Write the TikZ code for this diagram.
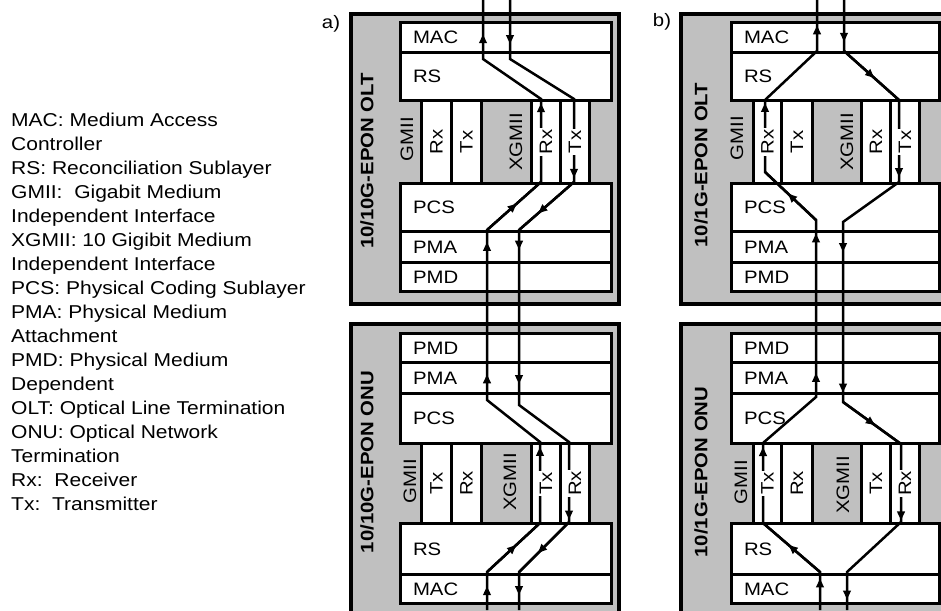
\documentclass[tikz,border=0pt]{standalone}
\usepackage{fontspec}
\setmainfont{Liberation Sans}[FakeStretch=1.13]
\usetikzlibrary{arrows.meta,decorations.markings}
\definecolor{unitgray}{HTML}{C0C0C0}
\newcommand{\layerfont}{\fontsize{18}{24}\selectfont}

\begin{document}
\begin{tikzpicture}[x=1pt,y=-1pt,
  every node/.style={font=\layerfont},
  unitbox/.style={draw, fill=unitgray, line width=4pt, anchor=north west, inner sep=0pt},
  layerbox/.style={draw, fill=white, line width=3pt, anchor=north west, inner xsep=12.5pt, inner ysep=0pt, align=left},
  alayer/.style={layerbox, minimum width=211pt, text width=186pt},
  blayer/.style={layerbox, minimum width=208pt, text width=183pt},
  col/.style={draw, fill=white, line width=3pt, anchor=north west, inner sep=0pt},
  collabel/.style={rotate=90, fill=white, inner sep=1.5pt},
  bandlabel/.style={rotate=90, inner sep=0pt},
  unittitle/.style={rotate=90, inner sep=0pt, font=\layerfont\bfseries},
  legend/.style={anchor=west, align=left, inner sep=0pt, font=\fontsize{18.6}{24}\selectfont},
  conn/.style={line width=2.5pt},
  arr/.style={postaction={decorate, decoration={markings, mark=at position #1 with {\arrow{Triangle[length=9pt,width=7.5pt]}}}}}]
\useasboundingbox (0,0) rectangle (941,610);
\clip (0,0) rectangle (941,610);

% legend
\node[legend] (legend) at (11,312) {MAC: Medium Access\\Controller\\RS: Reconciliation Sublayer\\GMII:\ \ Gigabit Medium\\Independent Interface\\XGMII: 10 Gigibit Medium\\Independent Interface\\PCS: Physical Coding Sublayer\\PMA: Physical Medium\\Attachment\\PMD: Physical Medium\\Dependent\\OLT: Optical Line Termination\\ONU: Optical Network\\Termination\\Rx:\ \ Receiver\\Tx:\ \ Transmitter};
\node[inner sep=0pt] (panelA) at (331,24) {a)};
\node[inner sep=0pt] (panelB) at (662,22) {b)};

% units
\node[unitbox, minimum width=268pt, minimum height=290pt] (oltA) at (349,12) {};
\node[unitbox, minimum width=268pt, minimum height=293pt] (onuA) at (349,322) {};
\node[unitbox, minimum width=269pt, minimum height=290pt] (oltB) at (679,12) {};
\node[unitbox, minimum width=269pt, minimum height=293pt] (onuB) at (679,322) {};

% a) OLT layers
\node[alayer, minimum height=30pt] (oltA-mac) at (399,21) {MAC};
\node[alayer, minimum height=48pt] (oltA-rs) at (399,51) {RS};
\node[alayer, minimum height=48pt] (oltA-pcs) at (399,182) {PCS};
\node[alayer, minimum height=31pt] (oltA-pma) at (399,230) {PMA};
\node[alayer, minimum height=29pt] (oltA-pmd) at (399,261) {PMD};
\node[col, minimum width=30pt, minimum height=83pt] (oltA-rx1) at (420,99) {};
\node[col, minimum width=30pt, minimum height=83pt] (oltA-tx1) at (450,99) {};
\node[col, minimum width=29pt, minimum height=83pt] (oltA-rx2) at (530,99) {};
\node[col, minimum width=29pt, minimum height=83pt] (oltA-tx2) at (559,99) {};

% a) ONU layers
\node[alayer, minimum height=29pt] (onuA-pmd) at (399,332) {PMD};
\node[alayer, minimum height=31pt] (onuA-pma) at (399,361) {PMA};
\node[alayer, minimum height=50pt] (onuA-pcs) at (399,392) {PCS};
\node[alayer, minimum height=51pt] (onuA-rs) at (399,522) {RS};
\node[alayer, minimum height=29pt] (onuA-mac) at (399,573) {MAC};
\node[col, minimum width=30pt, minimum height=80pt] (onuA-tx1) at (420,442) {};
\node[col, minimum width=30pt, minimum height=80pt] (onuA-rx1) at (450,442) {};
\node[col, minimum width=29pt, minimum height=80pt] (onuA-tx2) at (530,442) {};
\node[col, minimum width=29pt, minimum height=80pt] (onuA-rx2) at (559,442) {};

% b) OLT layers
\node[blayer, minimum height=30pt] (oltB-mac) at (730,21) {MAC};
\node[blayer, minimum height=48pt] (oltB-rs) at (730,51) {RS};
\node[blayer, minimum height=48pt] (oltB-pcs) at (730,182) {PCS};
\node[blayer, minimum height=31pt] (oltB-pma) at (730,230) {PMA};
\node[blayer, minimum height=29pt] (oltB-pmd) at (730,261) {PMD};
\node[col, minimum width=28pt, minimum height=83pt] (oltB-rx1) at (752,99) {};
\node[col, minimum width=31pt, minimum height=83pt] (oltB-tx1) at (780,99) {};
\node[col, minimum width=29pt, minimum height=83pt] (oltB-rx2) at (860,99) {};
\node[col, minimum width=29pt, minimum height=83pt] (oltB-tx2) at (889,99) {};

% b) ONU layers
\node[blayer, minimum height=29pt] (onuB-pmd) at (730,332) {PMD};
\node[blayer, minimum height=31pt] (onuB-pma) at (730,361) {PMA};
\node[blayer, minimum height=50pt] (onuB-pcs) at (730,392) {PCS};
\node[blayer, minimum height=51pt] (onuB-rs) at (730,522) {RS};
\node[blayer, minimum height=29pt] (onuB-mac) at (730,573) {MAC};
\node[col, minimum width=28pt, minimum height=80pt] (onuB-tx1) at (752,442) {};
\node[col, minimum width=31pt, minimum height=80pt] (onuB-rx1) at (780,442) {};
\node[col, minimum width=29pt, minimum height=80pt] (onuB-tx2) at (860,442) {};
\node[col, minimum width=29pt, minimum height=80pt] (onuB-rx2) at (889,442) {};

% a) upstream and downstream paths
\coordinate (aU1) at (487,610);
\coordinate (aU2) at (487,572);
\coordinate (aU3) at (540,523);
\coordinate (aU4) at (540,442);
\coordinate (aU5) at (487,400);
\coordinate (aU6) at (487,230);
\coordinate (aU7) at (541,182);
\coordinate (aU8) at (541,99);
\coordinate (aU9) at (483,59);
\coordinate (aU10) at (483,0);
\coordinate (aD1) at (510,0);
\coordinate (aD2) at (510,59);
\coordinate (aD3) at (574,99);
\coordinate (aD4) at (574,182);
\coordinate (aD5) at (519,230);
\coordinate (aD6) at (519,405);
\coordinate (aD7) at (569,442);
\coordinate (aD8) at (569,522);
\coordinate (aD9) at (519,572);
\coordinate (aD10) at (519,610);
\draw[conn] (aU1) -- (aU2) -- (aU3) -- (aU4) -- (aU5) -- (aU6) -- (aU7) -- (aU8) -- (aU9) -- (aU10);
\draw[conn] (aD1) -- (aD2) -- (aD3) -- (aD4) -- (aD5) -- (aD6) -- (aD7) -- (aD8) -- (aD9) -- (aD10);
\draw[conn, arr=0.59] (aU1 |- onuA-mac.south) -- (aU1 |- onuA-mac.north);
\draw[conn, arr=0.55] (aU2) -- (aU3);
\draw[conn, arr=0.94] (aU3) -- (aU4);
\draw[conn, arr=0.61] (aU5 |- onuA-pma.south) -- (aU5 |- onuA-pma.north);
\draw[conn, arr=0.65] (aU6 |- oltA-pma.south) -- (aU6 |- oltA-pma.north);
\draw[conn, arr=0.55] (aU6) -- (aU7);
\draw[conn, arr=0.95] (aU7) -- (aU8);
\draw[conn, arr=0.6] (aU10 |- oltA-mac.south) -- (aU10 |- oltA-mac.north);
\draw[conn, arr=0.7] (aD1 |- oltA-mac.north) -- (aD1 |- oltA-mac.south);
\draw[conn, arr=0.95] (aD3) -- (aD4);
\draw[conn, arr=0.65] (aD4) -- (aD5);
\draw[conn, arr=0.58] (aD5 |- oltA-pma.north) -- (aD5 |- oltA-pma.south);
\draw[conn, arr=0.68] (aD6 |- onuA-pma.north) -- (aD6 |- onuA-pma.south);
\draw[conn, arr=0.97] (aD7) -- (aD8);
\draw[conn, arr=0.62] (aD8) -- (aD9);
\draw[conn, arr=0.69] (aD10 |- onuA-mac.north) -- (aD10 |- onuA-mac.south);

% b) upstream and downstream paths
\coordinate (bU1) at (820,610);
\coordinate (bU2) at (820,572);
\coordinate (bU3) at (763,523);
\coordinate (bU4) at (763,443);
\coordinate (bU5) at (816,397);
\coordinate (bU6) at (816,220);
\coordinate (bU7) at (765,172);
\coordinate (bU8) at (765,100);
\coordinate (bU9) at (817,51);
\coordinate (bU10) at (817,0);
\coordinate (bD1) at (844,0);
\coordinate (bD2) at (844,51);
\coordinate (bD3) at (899,100);
\coordinate (bD4) at (899,182);
\coordinate (bD5) at (843,222);
\coordinate (bD6) at (843,402);
\coordinate (bD7) at (901,444);
\coordinate (bD8) at (901,522);
\coordinate (bD9) at (847,572);
\coordinate (bD10) at (847,610);
\draw[conn] (bU1) -- (bU2) -- (bU3) -- (bU4) -- (bU5) -- (bU6) -- (bU7) -- (bU8) -- (bU9) -- (bU10);
\draw[conn] (bD1) -- (bD2) -- (bD3) -- (bD4) -- (bD5) -- (bD6) -- (bD7) -- (bD8) -- (bD9) -- (bD10);
\draw[conn, arr=0.83] (bU1 |- onuB-mac.south) -- (bU1 |- onuB-mac.north);
\draw[conn, arr=0.55] (bU2) -- (bU3);
\draw[conn, arr=0.95] (bU3) -- (bU4);
\draw[conn, arr=0.65] (bU5 |- onuB-pma.south) -- (bU5 |- onuB-pma.north);
\draw[conn, arr=0.9] (bU6 |- oltB-pma.south) -- (bU6 |- oltB-pma.north);
\draw[conn, arr=0.55] (bU6) -- (bU7);
\draw[conn, arr=0.96] (bU7) -- (bU8);
\draw[conn, arr=0.87] (bU10 |- oltB-mac.south) -- (bU10 |- oltB-mac.north);
\draw[conn, arr=0.63] (bD1 |- oltB-mac.north) -- (bD1 |- oltB-mac.south);
\draw[conn, arr=0.55] (bD2) -- (bD3);
\draw[conn, arr=0.94] (bD3) -- (bD4);
\draw[conn, arr=0.65] (bD5 |- oltB-pma.north) -- (bD5 |- oltB-pma.south);
\draw[conn, arr=0.93] (bD6 |- onuB-pma.north) -- (bD6 |- onuB-pma.south);
\draw[conn, arr=0.55] (bD6) -- (bD7);
\draw[conn, arr=0.98] (bD7) -- (bD8);
\draw[conn, arr=0.83] (bD10 |- onuB-mac.north) -- (bD10 |- onuB-mac.south);

% interface labels
\node[bandlabel] (oltA-gmii) at (407,139) {GMII};
\node[bandlabel] (oltA-xgmii) at (516,142) {XGMII};
\node[collabel] (oltA-rx1-l) at (oltA-rx1.center) {Rx};
\node[collabel] (oltA-tx1-l) at (oltA-tx1.center) {Tx};
\node[collabel] (oltA-rx2-l) at (oltA-rx2.center) {Rx};
\node[collabel] (oltA-tx2-l) at (oltA-tx2.center) {Tx};
\node[bandlabel] (onuA-gmii) at (410,481) {GMII};
\node[bandlabel] (onuA-xgmii) at (510,482) {XGMII};
\node[collabel] (onuA-tx1-l) at (onuA-tx1.center) {Tx};
\node[collabel] (onuA-rx1-l) at (onuA-rx1.center) {Rx};
\node[collabel] (onuA-tx2-l) at (onuA-tx2.center) {Tx};
\node[collabel] (onuA-rx2-l) at (onuA-rx2.center) {Rx};
\node[bandlabel] (oltB-gmii) at (737,138) {GMII};
\node[bandlabel] (oltB-xgmii) at (847,142) {XGMII};
\node[collabel] (oltB-rx1-l) at (oltB-rx1.center) {Rx};
\node[collabel] (oltB-tx1-l) at (oltB-tx1.center) {Tx};
\node[collabel] (oltB-rx2-l) at (oltB-rx2.center) {Rx};
\node[collabel] (oltB-tx2-l) at (oltB-tx2.center) {Tx};
\node[bandlabel] (onuB-gmii) at (741,482) {GMII};
\node[bandlabel] (onuB-xgmii) at (843,485) {XGMII};
\node[collabel] (onuB-tx1-l) at (onuB-tx1.center) {Tx};
\node[collabel] (onuB-rx1-l) at (onuB-rx1.center) {Rx};
\node[collabel] (onuB-tx2-l) at (onuB-tx2.center) {Tx};
\node[collabel] (onuB-rx2-l) at (onuB-rx2.center) {Rx};

% unit titles
\node[unittitle] (oltA-title) at (367,161) {10/10G-EPON OLT};
\node[unittitle] (onuA-title) at (367,462) {10/10G-EPON ONU};
\node[unittitle] (oltB-title) at (701,165) {10/1G-EPON OLT};
\node[unittitle] (onuB-title) at (701,472) {10/1G-EPON ONU};
\end{tikzpicture}
\end{document}
